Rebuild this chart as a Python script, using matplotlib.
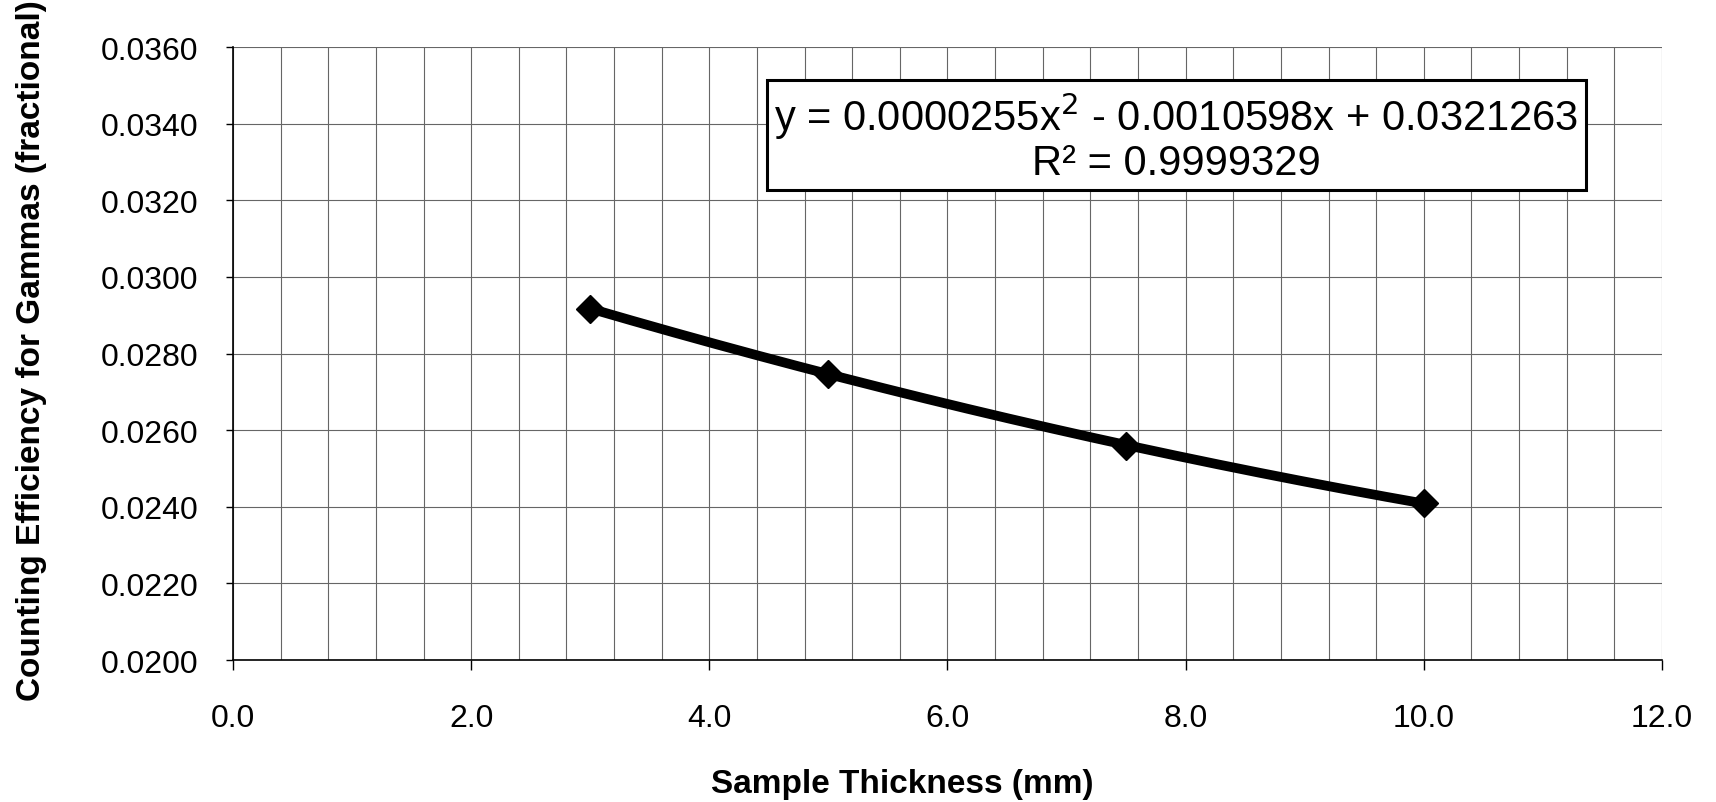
import numpy as np
import matplotlib
matplotlib.use("Agg")
import matplotlib.pyplot as plt
from matplotlib.ticker import MultipleLocator, FormatStrFormatter

# dados
thickness = [3.0, 5.0, 7.5, 10.0]
efficiency = [0.02917, 0.02748, 0.02560, 0.02409]
eq_text = "y = 0.0000255x$^2$ - 0.0010598x + 0.0321263\nR² = 0.9999329"

plt.rcParams["font.family"] = ["Liberation Sans", "DejaVu Sans"]

fig = plt.figure(figsize=(17.16, 8.03), dpi=100)
ax = fig.add_axes([0.1358, 0.1768, 0.8327, 0.7632])

# linha de tendencia polinomial (ordem 2)
coef = np.polyfit(thickness, efficiency, 2)
xs = np.linspace(min(thickness), max(thickness), 200)
ax.plot(xs, np.polyval(coef, xs), color="black", lw=7, solid_capstyle="butt", zorder=3)
ax.plot(thickness, efficiency, ls="none", marker="D", ms=14, color="black", zorder=4)

ax.set_xlim(0, 12)
ax.set_ylim(0.02, 0.036)
ax.xaxis.set_major_locator(MultipleLocator(2))
ax.xaxis.set_minor_locator(MultipleLocator(0.4))
ax.yaxis.set_major_locator(MultipleLocator(0.002))
ax.xaxis.set_major_formatter(FormatStrFormatter("%.1f"))
ax.yaxis.set_major_formatter(FormatStrFormatter("%.4f"))

ax.grid(True, which="both", axis="x", color="#666666", lw=0.8)
ax.grid(True, which="major", axis="y", color="#666666", lw=0.8)
ax.set_axisbelow(True)

for s in ["top", "right"]:
    ax.spines[s].set_visible(False)
ax.spines["left"].set_linewidth(1.2)
ax.spines["bottom"].set_linewidth(1.2)

ax.tick_params(axis="y", which="major", length=5, width=1, pad=20, labelsize=23)
ax.tick_params(axis="x", which="major", length=7, width=1, pad=24, labelsize=23)
ax.tick_params(axis="x", which="minor", length=0)

ax.set_xlabel("Sample Thickness (mm)", fontsize=24, fontweight="bold")
ax.xaxis.set_label_coords(0.468, -0.176)
ax.set_ylabel("Counting Efficiency for Gammas (fractional)", fontsize=24,
              fontweight="bold")
ax.yaxis.set_label_coords(-0.13, 0.506)

ax.text(0.66, 0.8545, eq_text, transform=ax.transAxes, ha="center", va="center",
        fontsize=30, linespacing=1.05, zorder=5,
        bbox=dict(boxstyle="square,pad=0.18", fc="white", ec="black", lw=2.2))

fig.savefig("out.png", dpi=100)
